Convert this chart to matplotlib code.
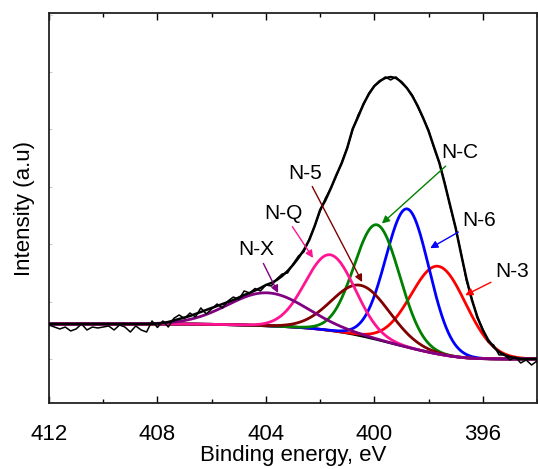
import numpy as np
import matplotlib
matplotlib.use('Agg')
import matplotlib.pyplot as plt
from matplotlib.ticker import MultipleLocator

plt.rcParams['font.family'] = ['Liberation Sans', 'DejaVu Sans']

# N 1s region, 0.2 eV step
energy = np.round(np.arange(412.0, 393.95, -0.2), 1)

counts = [0.592, 0.557, 0.523, 0.557, 0.488, 0.523, 0.61, 0.505, 0.557, 0.54, 0.557, 0.575, 0.505, 0.592,
          0.557, 0.47, 0.575, 0.505, 0.47, 0.662, 0.549, 0.662, 0.557, 0.706, 0.767, 0.706, 0.801, 0.732,
          0.889, 0.784, 0.871, 0.958, 0.889, 1.01, 1.08, 1.037, 1.185, 1.15, 1.228, 1.185, 1.289, 1.272,
          1.394, 1.481, 1.498, 1.655, 1.794, 1.864, 2.091, 2.317, 2.578, 2.805, 2.979, 3.188, 3.432, 3.676,
          3.99, 4.251, 4.425, 4.634, 4.756, 4.826, 4.913, 4.861, 4.913, 4.808, 4.721, 4.599, 4.39, 4.199,
          3.99, 3.676, 3.415, 3.066, 2.648, 2.282, 1.847, 1.359, 1.045, 0.714, 0.523, 0.296, 0.244, 0.07,
          0.07, -0.017, 0.035, -0.07, -0.017, -0.105, -0.035]

fit_total = [0.61]*20 + [0.618, 0.627, 0.645, 0.671, 0.697, 0.723, 0.749, 0.784, 0.819, 0.854, 0.889, 0.923,
             0.958, 0.993, 1.028, 1.071, 1.115, 1.15, 1.193, 1.237, 1.289, 1.324, 1.376, 1.446, 1.533,
             1.638, 1.76, 1.899, 2.073, 2.317, 2.596, 2.77, 2.979, 3.206, 3.415, 3.676, 4.007, 4.216,
             4.443, 4.617, 4.756, 4.843, 4.895, 4.913, 4.895, 4.826, 4.721, 4.582, 4.408, 4.199, 3.972,
             3.693, 3.415, 3.049, 2.666, 2.282, 1.829, 1.394, 1.028, 0.732, 0.505, 0.331, 0.209, 0.122,
             0.07, 0.035, 0.017, 0.0, 0.0, 0.0, 0.0]

bg_high, bg_low = 0.61, 0.0

names = ['N-X', 'N-Q', 'N-5', 'N-C', 'N-6', 'N-3']
centers = [403.95, 401.63, 400.5, 399.9, 398.78, 397.63]
heights = [0.575, 1.32, 0.88, 2.0, 2.41, 1.53]
fwhm = [3.4, 2.15, 2.5, 1.97, 1.88, 2.4]
colors = ['#800080', '#FF1493', '#800000', '#008000', '#0000FF', '#FF0000']

label_xy = [(404.34, 1.90), (403.35, 2.54), (402.55, 3.24), (396.83, 3.59), (396.13, 2.42), (394.93, 1.52)]
arrow_xy = [(403.55, 1.15), (402.26, 1.76), (400.45, 1.34), (399.72, 2.36), (397.94, 1.93), (396.65, 1.11)]

counts = np.array(counts)
fit_total = np.array(fit_total)

# Shirley background from the cumulative fit
bg = np.full_like(fit_total, bg_low)
for _ in range(20):
    sig = fit_total - bg
    area = np.concatenate(([0], np.cumsum((sig[1:][::-1] + sig[:-1][::-1]) / 2 * 0.2)))[::-1]
    bg = bg_low + (bg_high - bg_low) * area / area[0]

e_fine = np.linspace(412, 394, 901)
bg_fine = np.interp(e_fine[::-1], energy[::-1], bg[::-1])[::-1]

fig = plt.figure(figsize=(5.38, 4.69), dpi=100)
ax = fig.add_axes([49/538, 66/469, 488/538, 390/469])

ax.plot(energy, counts, color='black', lw=1.1, zorder=3)
ax.plot(energy, fit_total, color='black', lw=1.8, zorder=4)
ax.plot(e_fine, bg_fine, color='black', lw=1.8, zorder=2)
for c, h, w, col in list(zip(centers, heights, fwhm, colors))[::-1]:
    g = h * np.exp(-4 * np.log(2) * ((e_fine - c) / w) ** 2)
    ax.plot(e_fine, bg_fine + g, color=col, lw=2.0, zorder=2.5)

for name, txy, axy, col in zip(names, label_xy, arrow_xy, colors):
    ax.annotate(name, xy=axy, xytext=txy, fontsize=15, ha='center', va='center',
                arrowprops=dict(arrowstyle='-|>', color=col, lw=1.0, mutation_scale=11,
                                shrinkA=1, shrinkB=0), zorder=6)

ax.set_xlim(412, 394)
ax.set_ylim(-0.767, 6.028)
ax.xaxis.set_major_locator(MultipleLocator(4))
ax.xaxis.set_minor_locator(MultipleLocator(2))
ax.yaxis.set_major_locator(MultipleLocator(1))
ax.tick_params(axis='x', which='both', direction='in', top=True, labelsize=16, pad=15)
ax.tick_params(axis='x', which='major', length=5, width=1)
ax.tick_params(axis='x', which='minor', length=3, width=1)
ax.tick_params(axis='y', which='both', direction='in', length=2, width=0.6, color='#bbbbbb',
               labelleft=False, right=False)
for s in ax.spines.values():
    s.set_linewidth(1.3)
    s.set_color('#222222')

ax.set_xlabel('Binding energy, eV', fontsize=16, labelpad=0)
ax.set_ylabel('Intensity (a.u)', fontsize=16, labelpad=10)

fig.savefig('out.png', dpi=100)
